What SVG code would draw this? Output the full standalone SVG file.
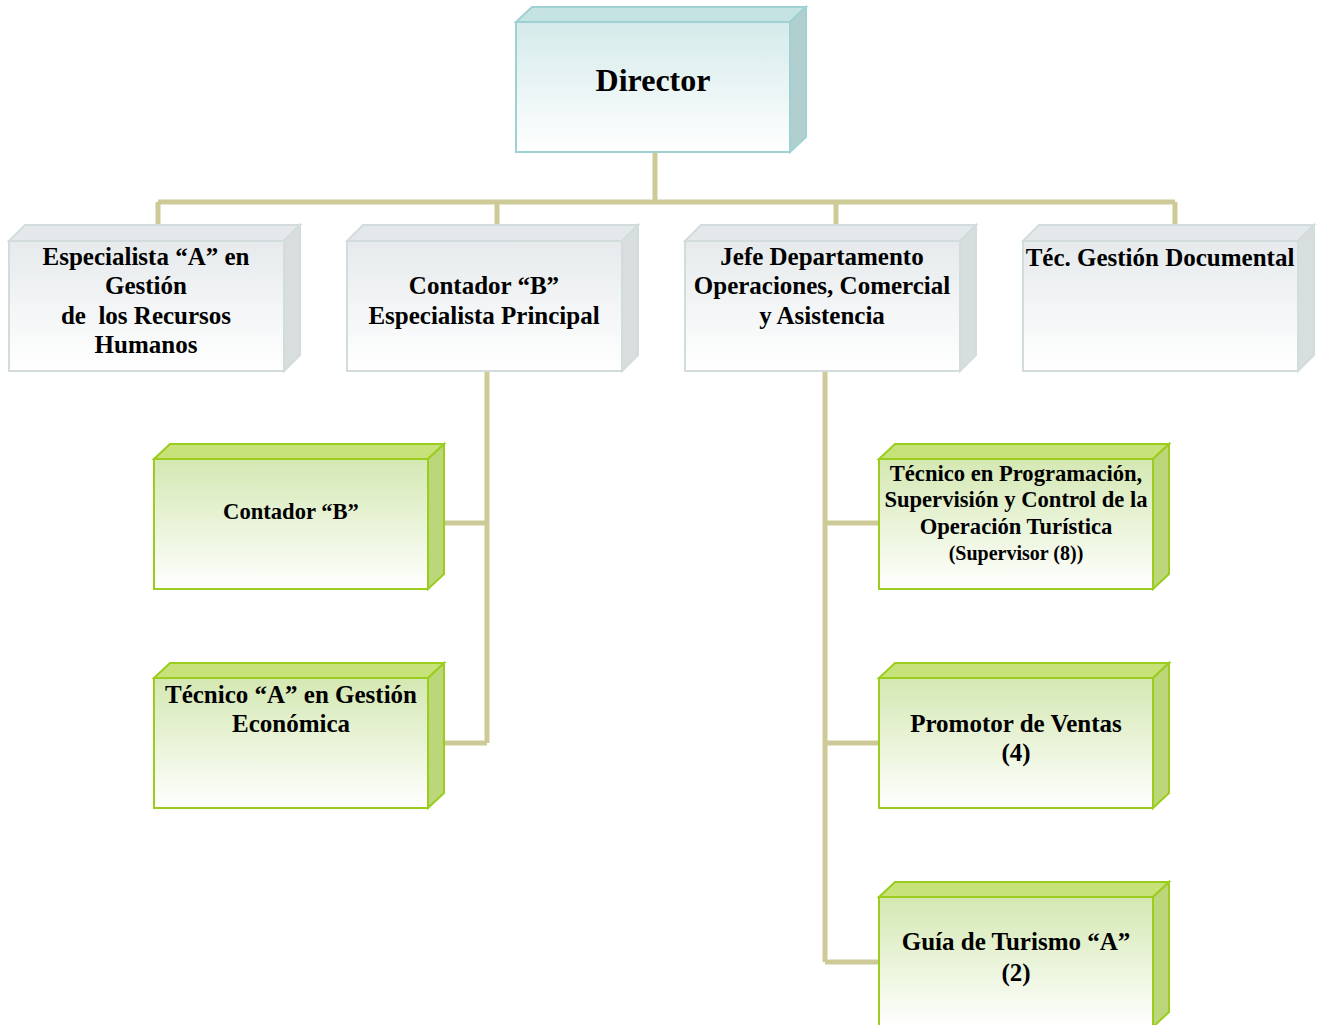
<svg xmlns="http://www.w3.org/2000/svg" width="1323" height="1025" viewBox="0 0 1323 1025">
<defs>
<linearGradient id="gTeal" x1="0" y1="0" x2="0" y2="1"><stop offset="0" stop-color="#d5eaea"/><stop offset="1" stop-color="#ffffff"/></linearGradient>
<linearGradient id="gGray" x1="0" y1="0" x2="0" y2="1"><stop offset="0" stop-color="#e6eaec"/><stop offset="1" stop-color="#ffffff"/></linearGradient>
<linearGradient id="gGreen" x1="0" y1="0" x2="0" y2="1"><stop offset="0" stop-color="#d4e8b2"/><stop offset="1" stop-color="#ffffff"/></linearGradient>
<style>
.con{stroke:#cdca98;stroke-width:5;fill:none}
.teal .front{fill:url(#gTeal);stroke:#9ed2d2;stroke-width:2}
.teal .top{fill:#c6e3e3;stroke:#9ed2d2;stroke-width:2}
.teal .side{fill:#b2cfcf;stroke:#9ed2d2;stroke-width:2}
.gray .front{fill:url(#gGray);stroke:#d3dcdc;stroke-width:2}
.gray .top{fill:#e4e8ea;stroke:#d3dcdc;stroke-width:2}
.gray .side{fill:#d8dddd;stroke:#d3dcdc;stroke-width:2}
.green .front{fill:url(#gGreen);stroke:#9acd1e;stroke-width:2}
.green .top{fill:#c6e279;stroke:#9acd1e;stroke-width:2}
.green .side{fill:#b4d36c;stroke:#9acd1e;stroke-width:2;fill-opacity:0.9}
text{font-family:"Liberation Serif","Times New Roman",serif;font-weight:bold;fill:#000;text-anchor:middle}
.t22{font-size:25px}
.t20{font-size:22.6px}
</style>
</defs>
<g id="connectors">
<path class="con" d="M655 152V202M158 202H1175M158 202V225M497 202V225M836 202V225M1175 202V225"/>
<path class="con" d="M487 371V743M444 523H487M444 743H487"/>
<path class="con" d="M825 371V962M825 523H879M825 743H879M825 962H879"/>
</g>
<g id="director" class="teal">
<polygon class="top" points="516,22 532,7 806,7 790,22"/>
<polygon class="side" points="790,22 806,7 806,137 790,152"/>
<rect class="front" x="516" y="22" width="274" height="130"/>
<text x="653" y="91" style="font-size:32px">Director</text>
</g>
<g id="rrhh" class="gray">
<polygon class="top" points="9,241 25,225 300,225 284,241"/>
<polygon class="side" points="284,241 300,225 300,355 284,371"/>
<rect class="front" x="9" y="241" width="275" height="130"/>
<text class="t22" x="146" y="265">Especialista “A” en</text>
<text class="t22" x="146" y="294">Gestión</text>
<text class="t22" x="146" y="324" xml:space="preserve">de  los Recursos</text>
<text class="t22" x="146" y="353">Humanos</text>
</g>
<g id="contador-principal" class="gray">
<polygon class="top" points="347,241 363,225 638,225 622,241"/>
<polygon class="side" points="622,241 638,225 638,355 622,371"/>
<rect class="front" x="347" y="241" width="275" height="130"/>
<text class="t22" x="484" y="294">Contador “B”</text>
<text class="t22" x="484" y="324">Especialista Principal</text>
</g>
<g id="jefe-operaciones" class="gray">
<polygon class="top" points="685,241 701,225 976,225 960,241"/>
<polygon class="side" points="960,241 976,225 976,355 960,371"/>
<rect class="front" x="685" y="241" width="275" height="130"/>
<text class="t22" x="822" y="265">Jefe Departamento</text>
<text class="t22" x="822" y="294">Operaciones, Comercial</text>
<text class="t22" x="822" y="324">y Asistencia</text>
</g>
<g id="gestion-documental" class="gray">
<polygon class="top" points="1023,241 1039,225 1314,225 1298,241"/>
<polygon class="side" points="1298,241 1314,225 1314,355 1298,371"/>
<rect class="front" x="1023" y="241" width="275" height="130"/>
<text class="t22" x="1160" y="266">Téc. Gestión Documental</text>
</g>
<g id="contador-b" class="green">
<polygon class="top" points="154,459 170,444 444,444 428,459"/>
<polygon class="side" points="428,459 444,444 444,574 428,589"/>
<rect class="front" x="154" y="459" width="274" height="130"/>
<text class="t20" x="291" y="519">Contador “B”</text>
</g>
<g id="tecnico-economica" class="green">
<polygon class="top" points="154,678 170,663 444,663 428,678"/>
<polygon class="side" points="428,678 444,663 444,793 428,808"/>
<rect class="front" x="154" y="678" width="274" height="130"/>
<text class="t22" x="291" y="703">Técnico “A” en Gestión</text>
<text class="t22" x="291" y="732">Económica</text>
</g>
<g id="tecnico-programacion" class="green">
<polygon class="top" points="879,459 895,444 1169,444 1153,459"/>
<polygon class="side" points="1153,459 1169,444 1169,574 1153,589"/>
<rect class="front" x="879" y="459" width="274" height="130"/>
<text class="t20" x="1016" y="481">Técnico en Programación,</text>
<text class="t20" x="1016" y="507">Supervisión y Control de la</text>
<text class="t20" x="1016" y="534">Operación Turística</text>
<text x="1016" y="560" style="font-size:20px">(Supervisor (8))</text>
</g>
<g id="promotor-ventas" class="green">
<polygon class="top" points="879,678 895,663 1169,663 1153,678"/>
<polygon class="side" points="1153,678 1169,663 1169,793 1153,808"/>
<rect class="front" x="879" y="678" width="274" height="130"/>
<text class="t22" x="1016" y="732">Promotor de Ventas</text>
<text class="t22" x="1016" y="761">(4)</text>
</g>
<g id="guia-turismo" class="green">
<polygon class="top" points="879,897 895,882 1169,882 1153,897"/>
<polygon class="side" points="1153,897 1169,882 1169,1012 1153,1027"/>
<rect class="front" x="879" y="897" width="274" height="130"/>
<text class="t22" x="1016" y="950">Guía de Turismo “A”</text>
<text class="t22" x="1016" y="981">(2)</text>
</g>
</svg>
